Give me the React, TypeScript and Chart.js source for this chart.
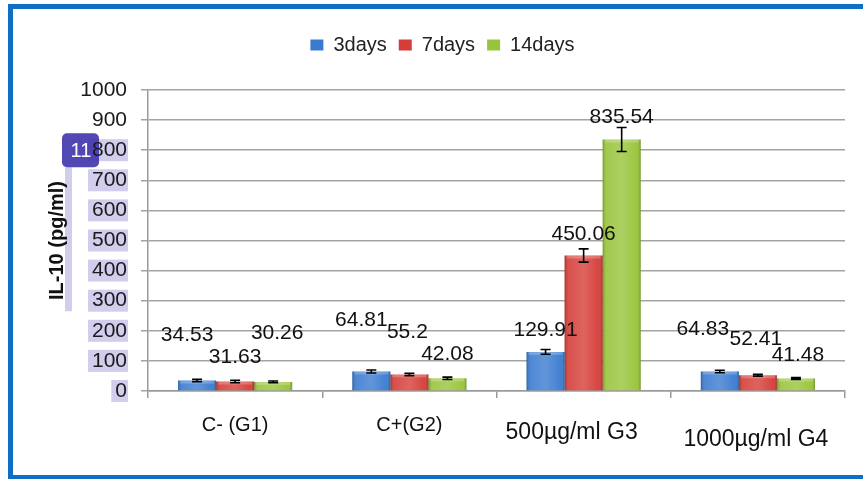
import { useEffect, useRef } from 'react';
import { Chart, registerables } from 'chart.js';

Chart.register(...registerables);

const CATEGORIES = ['C- (G1)', 'C+(G2)', '500µg/ml G3', '1000µg/ml G4'];
const SERIES_NAMES = ['3days', '7days', '14days'];
const DAYS3 = [34.53, 64.81, 129.91, 64.83];
const DAYS7 = [31.63, 55.2, 450.06, 52.41];
const DAYS14 = [30.26, 42.08, 835.54, 41.48];
const ERR3 = [4, 5, 8, 4];
const ERR7 = [4, 4, 22, 3];
const ERR14 = [3, 4, 40, 3];
const Y_MIN = 0;
const Y_MAX = 1000;
const Y_STEP = 100;
const Y_TITLE = 'IL-10 (pg/ml)';
const BADGE_TEXT = '11';

// styles
const COLORS = ['#3a7bd0', '#d53d38', '#98c43a'];
const FONT = "'Liberation Sans', Arial, sans-serif";
// label offsets (px) relative to bar top centre, [dataset][category]
const LABEL_OFFSETS = [
  [[-10, -45], [-10, -51], [0, -22], [-17, -42]],
  [[0, -24], [-2, -42], [0, -21], [-2, -36]],
  [[4, -49], [0, -24], [0, -22], [2, -23]],
];
// x label offsets relative to category centre / axis line, plus font size
const X_LABEL_SHIFT = [[0, 34, 20], [0, 34, 20], [-12, 42, 23], [-2, 49, 23]];
const LEGEND_H = 67;

const SERIES = [DAYS3, DAYS7, DAYS14];
const ERRORS = [ERR3, ERR7, ERR14];

const decorPlugin = {
  id: 'decor',
  afterInit(chart: any) {
    const lg = chart.legend;
    if (lg && !lg._patched) {
      const f = lg.fit;
      lg.fit = function () {
        f.call(this);
        this.height = LEGEND_H;
      };
      lg._patched = true;
    }
  },
  beforeDraw(chart: any) {
    const ctx = chart.ctx;
    const y = chart.scales.y;
    ctx.save();
    ctx.font = `21px ${FONT}`;
    ctx.fillStyle = 'rgba(165,156,218,0.5)';
    const right = chart.chartArea.left - 7 - 14;
    y.ticks.forEach((t: any) => {
      if (t.value > 800) return;
      const py = y.getPixelForValue(t.value);
      const w = ctx.measureText(String(t.value)).width;
      ctx.fillRect(right - w - 4, py - 11, w + 5, 22);
    });
    // vertical strip
    const yTop = y.getPixelForValue(800) + 17;
    const yBot = y.getPixelForValue(265);
    ctx.fillRect(65, yTop, 7, yBot - yTop);
    // badge
    const by = y.getPixelForValue(800);
    ctx.fillStyle = 'rgba(62,52,172,0.9)';
    ctx.beginPath();
    (ctx as any).roundRect(62, by - 17, 37, 34, 5);
    ctx.fill();
    ctx.fillStyle = '#ffffff';
    ctx.font = `20px ${FONT}`;
    ctx.textAlign = 'center';
    ctx.textBaseline = 'middle';
    ctx.fillText(BADGE_TEXT, 81, by + 1);
    ctx.restore();
  },
  afterDatasetsDraw(chart: any) {
    const ctx = chart.ctx;
    const yS = chart.scales.y;
    ctx.save();
    // bevel overlay
    chart.data.datasets.forEach((_ds: any, di: number) => {
      const meta = chart.getDatasetMeta(di);
      meta.data.forEach((el: any) => {
        const w = el.width;
        const l = el.x - w / 2;
        const h = el.base - el.y;
        const g = ctx.createLinearGradient(l, 0, l + w, 0);
        g.addColorStop(0, 'rgba(0,0,0,0.22)');
        g.addColorStop(0.1, 'rgba(255,255,255,0.10)');
        g.addColorStop(0.5, 'rgba(255,255,255,0.20)');
        g.addColorStop(0.9, 'rgba(255,255,255,0.04)');
        g.addColorStop(1, 'rgba(0,0,0,0.25)');
        ctx.fillStyle = g;
        ctx.fillRect(l, el.y, w, h);
        ctx.fillStyle = 'rgba(255,255,255,0.22)';
        ctx.fillRect(l + 2, el.y, w - 4, Math.min(3, h));
      });
    });
    // error bars
    ctx.strokeStyle = '#000';
    ctx.lineWidth = 1.6;
    chart.data.datasets.forEach((_ds: any, di: number) => {
      const meta = chart.getDatasetMeta(di);
      meta.data.forEach((el: any, i: number) => {
        const v = SERIES[di][i];
        const e = ERRORS[di][i];
        const t = yS.getPixelForValue(v + e);
        const b = yS.getPixelForValue(v - e);
        ctx.beginPath();
        ctx.moveTo(el.x, t);
        ctx.lineTo(el.x, b);
        ctx.moveTo(el.x - 5, t);
        ctx.lineTo(el.x + 5, t);
        ctx.moveTo(el.x - 5, b);
        ctx.lineTo(el.x + 5, b);
        ctx.stroke();
      });
    });
    // data labels
    ctx.fillStyle = '#111';
    ctx.font = `21px ${FONT}`;
    ctx.textAlign = 'center';
    ctx.textBaseline = 'middle';
    chart.data.datasets.forEach((_ds: any, di: number) => {
      const meta = chart.getDatasetMeta(di);
      meta.data.forEach((el: any, i: number) => {
        const [dx, dy] = LABEL_OFFSETS[di][i];
        ctx.fillText(String(SERIES[di][i]), el.x + dx, el.y + dy);
      });
    });
    ctx.restore();
  },
  afterDraw(chart: any) {
    const ctx = chart.ctx;
    const xS = chart.scales.x;
    const base = chart.chartArea.bottom;
    ctx.save();
    ctx.fillStyle = '#111';
    ctx.textAlign = 'center';
    ctx.textBaseline = 'middle';
    CATEGORIES.forEach((c, i) => {
      const [dx, dy, fs] = X_LABEL_SHIFT[i];
      ctx.font = `${fs}px ${FONT}`;
      ctx.fillText(c, xS.getPixelForValue(i) + dx, base + dy);
    });
    ctx.restore();
  },
};

export default function App() {
  const ref = useRef<HTMLCanvasElement | null>(null);
  useEffect(() => {
    if (!ref.current) return;
    const chart = new Chart(ref.current, {
      type: 'bar',
      data: {
        labels: CATEGORIES,
        datasets: SERIES.map((s, i) => ({
          label: SERIES_NAMES[i],
          data: s,
          backgroundColor: COLORS[i],
          borderWidth: 0,
          barPercentage: 1,
          categoryPercentage: 0.655,
        })),
      },
      options: {
        animation: false,
        responsive: false,
        devicePixelRatio: 1,
        layout: { padding: { left: 40, right: 18, top: 23, bottom: 0 } },
        plugins: {
          legend: {
            position: 'top',
            labels: {
              font: { family: FONT, size: 20 },
              color: '#222',
              boxWidth: 13,
              boxHeight: 11,
              padding: 12,
            },
          },
          tooltip: { enabled: false },
        },
        scales: {
          x: {
            ticks: { display: false },
            grid: { drawOnChartArea: false, drawTicks: true, tickLength: 7, color: '#9a9a9a', lineWidth: 1.5 },
            border: { color: '#9a9a9a', width: 1.5 },
            afterFit: (s: any) => {
              s.height = 88;
            },
          },
          y: {
            min: Y_MIN,
            max: Y_MAX,
            ticks: {
              stepSize: Y_STEP,
              font: { family: FONT, size: 21 },
              color: '#1a1a1a',
              padding: 14,
              callback: (v: any) => String(v),
            },
            grid: { color: '#a3a3a3', lineWidth: 1.5, tickLength: 7 },
            border: { color: '#9a9a9a', width: 1.5 },
            title: {
              display: true,
              text: Y_TITLE,
              font: { family: FONT, size: 20, weight: 'bold' },
              color: '#111',
              padding: { top: 5, bottom: 0 },
            },
            afterFit: (s: any) => {
              s.width = 108;
            },
          },
        },
      },
      plugins: [decorPlugin],
    } as any);
    return () => chart.destroy();
  }, []);
  return (
    <div style={{ position: 'fixed', left: 0, top: 0, width: 863, height: 479, background: '#fff', overflow: 'hidden' }}>
      <div
        style={{
          position: 'absolute',
          left: 8,
          top: 4,
          width: 900,
          height: 466,
          border: '5px solid #0e6fc5',
          borderRight: 'none',
        }}
      />
      <canvas ref={ref} width={863} height={479} style={{ position: 'absolute', left: 0, top: 0, width: 863, height: 479 }} />
    </div>
  );
}
